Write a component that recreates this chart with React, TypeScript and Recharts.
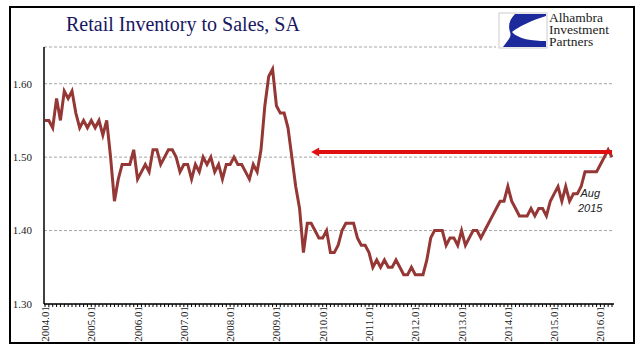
import {
  Line,
  LineChart,
  CartesianGrid,
  ReferenceLine,
  XAxis,
  YAxis,
} from "recharts";

// monthly inventory / sales ratio
const y2004 = [1.55, 1.55, 1.54, 1.58, 1.55, 1.59, 1.58, 1.59, 1.56, 1.54, 1.55, 1.54];
const y2005 = [1.55, 1.54, 1.55, 1.53, 1.55, 1.5, 1.44, 1.47, 1.49, 1.49, 1.49, 1.51];
const y2006 = [1.47, 1.48, 1.49, 1.48, 1.51, 1.51, 1.49, 1.5, 1.51, 1.51, 1.5, 1.48];
const y2007 = [1.49, 1.49, 1.47, 1.49, 1.48, 1.5, 1.49, 1.5, 1.48, 1.49, 1.47, 1.49];
const y2008 = [1.49, 1.5, 1.49, 1.49, 1.48, 1.47, 1.49, 1.48, 1.51, 1.57, 1.61, 1.62];
const y2009 = [1.57, 1.56, 1.56, 1.54, 1.5, 1.46, 1.43, 1.37, 1.41, 1.41, 1.4, 1.39];
const y2010 = [1.39, 1.4, 1.37, 1.37, 1.38, 1.4, 1.41, 1.41, 1.41, 1.39, 1.38, 1.38];
const y2011 = [1.37, 1.35, 1.36, 1.35, 1.36, 1.35, 1.35, 1.36, 1.35, 1.34, 1.34, 1.35];
const y2012 = [1.34, 1.34, 1.34, 1.36, 1.39, 1.4, 1.4, 1.4, 1.38, 1.39, 1.39, 1.38];
const y2013 = [1.4, 1.38, 1.39, 1.4, 1.4, 1.39, 1.4, 1.41, 1.42, 1.43, 1.44, 1.44];
const y2014 = [1.46, 1.44, 1.43, 1.42, 1.42, 1.42, 1.43, 1.42, 1.43, 1.43, 1.42, 1.44];
const y2015 = [1.45, 1.46, 1.44, 1.46, 1.44, 1.45, 1.45, 1.46, 1.48, 1.48, 1.48, 1.48];
const y2016 = [1.49, 1.5, 1.51, 1.5];

const years = [2004, 2005, 2006, 2007, 2008, 2009, 2010, 2011, 2012, 2013, 2014, 2015, 2016];
const yearValues = [y2004, y2005, y2006, y2007, y2008, y2009, y2010, y2011, y2012, y2013, y2014, y2015, y2016];
const yTicks = [1.3, 1.4, 1.5, 1.6];

const arrowFrom = "2009.10";
const arrowTo = "2016.04";
const arrowLevel = 1.507;

const data = years.flatMap((yr, yi) =>
  yearValues[yi].map((v, m) => ({
    month: `${yr}.${String(m + 1).padStart(2, "0")}`,
    ratio: v,
  }))
);

const serif = "'Liberation Serif', 'Times New Roman', serif";

function MonthTick({ x, y, payload }: any) {
  if (!payload.value.endsWith(".01")) return null;
  return (
    <text
      transform={`translate(${x + 4},${y - 3}) rotate(-90)`}
      textAnchor="end"
      fontSize={11}
      fontFamily={serif}
      fill="#222"
    >
      {payload.value}
    </text>
  );
}

function ArrowShape(props: any) {
  const { x1, y1, x2 } = props;
  const left = Math.min(x1, x2);
  const right = Math.max(x1, x2);
  return (
    <g>
      <line x1={left + 6} y1={y1} x2={right} y2={y1} stroke="#e01010" strokeWidth={4} />
      <polygon
        points={`${left},${y1} ${left + 8},${y1 - 4.5} ${left + 8},${y1 + 4.5}`}
        fill="#e01010"
      />
    </g>
  );
}

function Logo() {
  return (
    <div
      style={{
        position: "absolute",
        left: 496,
        top: 10,
        width: 122,
        height: 40,
        background: "#fff",
      }}
    >
      <svg width={122} height={40}>
        <rect x={3} y={3} width={48} height={35} fill="#fff" stroke="#ccc" />
        <path
          d="M19,4 L50,4 L50,6 C36,10 22,17 16,22 C22,29 36,31 50,31 L50,37 L7,37 C12,30 16,27 14,22 C12,16 13,10 19,4 Z"
          fill="#1c2a9c"
        />
      </svg>
      <div
        style={{
          position: "absolute",
          left: 53,
          top: 2,
          fontFamily: serif,
          fontSize: 13.5,
          lineHeight: "12px",
          color: "#222",
        }}
      >
        Alhambra
        <br />
        Investment
        <br />
        Partners
      </div>
    </div>
  );
}

export default function App() {
  return (
    <div style={{ position: "absolute", left: 0, top: 0, width: 641, height: 358, background: "#fff" }}>
      <div
        style={{
          position: "absolute",
          left: 9,
          top: 6,
          width: 622,
          height: 334,
          border: "2px solid #000",
        }}
      />
      <div
        style={{
          position: "absolute",
          left: 66,
          top: 13,
          fontFamily: serif,
          fontSize: 20,
          color: "#17175f",
          whiteSpace: "nowrap",
        }}
      >
        Retail Inventory to Sales, SA
      </div>
      <div style={{ position: "absolute", left: 0, top: 0 }}>
        <LineChart
          width={641}
          height={358}
          data={data}
          margin={{ top: 47, right: 27, bottom: 14, left: 8 }}
        >
          <CartesianGrid
            horizontal
            vertical={false}
            stroke="#a6a6a6"
            strokeDasharray="3 2"
          />
          <XAxis
            dataKey="month"
            interval={0}
            height={40}
            padding={{ left: 1, right: 2 }}
            axisLine={{ stroke: "#000", strokeWidth: 1.5 }}
            tickLine={{ stroke: "#000" }}
            tickSize={3}
            tick={<MonthTick />}
          />
          <XAxis
            xAxisId="top"
            dataKey="month"
            orientation="top"
            height={0}
            tick={false}
            tickLine={false}
            axisLine={{ stroke: "#8c8c8c" }}
          />
          <YAxis
            domain={[1.3, 1.65]}
            ticks={yTicks}
            width={36}
            axisLine={{ stroke: "#000", strokeWidth: 1.5 }}
            tickLine={false}
            tickFormatter={(v: number) => v.toFixed(2)}
            tick={{ fontSize: 11, fontFamily: serif, fill: "#222" }}
            tickMargin={6}
          />
          <YAxis
            yAxisId="right"
            orientation="right"
            domain={[1.3, 1.65]}
            width={0}
            tick={false}
            tickLine={false}
            axisLine={{ stroke: "#8c8c8c" }}
          />
          <Line
            type="linear"
            dataKey="ratio"
            stroke="#953735"
            strokeWidth={3}
            dot={false}
            isAnimationActive={false}
          />
          <ReferenceLine
            segment={[
              { x: arrowFrom, y: arrowLevel },
              { x: arrowTo, y: arrowLevel },
            ]}
            shape={<ArrowShape />}
          />
        </LineChart>
      </div>
      <Logo />
      <div
        style={{
          position: "absolute",
          left: 578,
          top: 186,
          fontFamily: "'Liberation Sans', Arial, sans-serif",
          fontStyle: "italic",
          fontSize: 11,
          lineHeight: "15px",
          color: "#222",
          textAlign: "center",
        }}
      >
        Aug
        <br />
        2015
      </div>
    </div>
  );
}
